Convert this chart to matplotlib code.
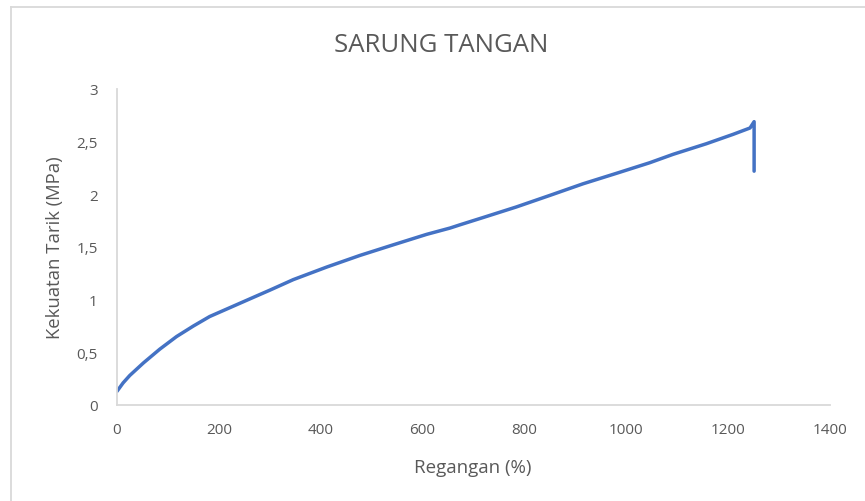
import matplotlib.pyplot as plt
from matplotlib.ticker import FuncFormatter
from matplotlib.lines import Line2D

# data
regangan = [0, 12, 25, 52, 84, 117, 150, 182, 215, 248, 281, 300, 346, 412,
            477, 542, 608, 654, 673, 719, 784, 850, 915, 981, 1046, 1092,
            1157, 1210, 1243, 1251, 1251]
kekuatan = [0.13, 0.21, 0.28, 0.40, 0.53, 0.65, 0.75, 0.84, 0.91, 0.98, 1.05,
            1.09, 1.19, 1.31, 1.42, 1.52, 1.62, 1.68, 1.71, 1.78, 1.88, 1.99,
            2.10, 2.20, 2.30, 2.38, 2.48, 2.57, 2.63, 2.69, 2.22]

x_ticks = [0, 200, 400, 600, 800, 1000, 1200, 1400]
y_ticks = [0, 0.5, 1, 1.5, 2, 2.5, 3]

plt.rcParams['font.family'] = ['Open Sans', 'DejaVu Sans']
teks = '#595959'
garis = '#d9d9d9'

fig = plt.figure(figsize=(8.65, 5.02), dpi=100)
ax = fig.add_axes([117 / 865, 1 - 406 / 502, (830 - 117) / 865, (406 - 90) / 502])

ax.plot(regangan, kekuatan, color='#4472C4', linewidth=2.5,
        solid_joinstyle='round', solid_capstyle='round')

ax.set_xlim(0, 1400)
ax.set_ylim(0, 3)
ax.set_xticks(x_ticks)
ax.set_yticks(y_ticks)
ax.yaxis.set_major_formatter(FuncFormatter(lambda v, p: ('%g' % v).replace('.', ',')))
ax.tick_params(length=0, labelsize=11, colors=teks)
ax.tick_params(axis='x', pad=12)
ax.tick_params(axis='y', pad=14)

for s in ['top', 'right']:
    ax.spines[s].set_visible(False)
ax.spines['left'].set_color(garis)
ax.spines['bottom'].set_color(garis)
ax.spines['left'].set_linewidth(1.3)
ax.spines['bottom'].set_linewidth(1.3)

fig.text(441 / 865, 1 - 46 / 502, 'SARUNG TANGAN', ha='center', va='center',
         fontsize=18.5, color=teks)
fig.text(473 / 865, 1 - 468 / 502, 'Regangan (%)', ha='center', va='center',
         fontsize=13.5, color=teks)
fig.text(55 / 865, 1 - 248 / 502, 'Kekuatan Tarik (MPa)', ha='center', va='center',
         rotation=90, fontsize=13.3, color=teks)

# chart border (only top and left visible in the crop)
fig.add_artist(Line2D([11 / 865, 11 / 865], [0, 1 - 8 / 502], color=garis, lw=1.3,
                      transform=fig.transFigure))
fig.add_artist(Line2D([11 / 865, 1], [1 - 8 / 502, 1 - 8 / 502], color=garis, lw=1.3,
                      transform=fig.transFigure))

plt.savefig('out.png', dpi=100)
